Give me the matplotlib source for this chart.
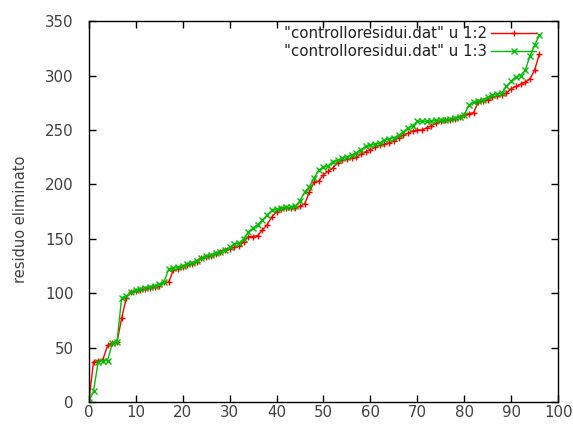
import numpy as np
import matplotlib
matplotlib.use("Agg")
from matplotlib import pyplot as plt

# colonna 1: indice
x = list(range(97))

# colonna 2
col2 = [0, 37, 38, 39, 52, 54, 55, 77, 96, 101,
        102, 103, 104, 105, 106, 107, 110, 110, 121, 122,
        124, 126, 127, 129, 132, 133, 134, 136, 138, 140,
        141, 142, 143, 147, 152, 152, 153, 158, 163, 170,
        175, 177, 178, 178, 178, 180, 182, 193, 202, 203,
        209, 212, 215, 220, 222, 223, 224, 225, 228, 230,
        232, 234, 236, 237, 238, 240, 243, 245, 247, 249,
        250, 250, 252, 254, 256, 258, 259, 259, 260, 262,
        264, 265, 266, 276, 277, 278, 280, 281, 282, 284,
        288, 290, 292, 294, 297, 305, 320]

# colonna 3
col3 = [0, 10, 37, 38, 38, 54, 55, 96, 97, 101,
        103, 104, 105, 106, 107, 108, 110, 122, 123, 124,
        125, 127, 128, 130, 132, 134, 135, 137, 138, 140,
        142, 145, 146, 150, 156, 160, 163, 167, 172, 176,
        177, 178, 179, 179, 180, 185, 193, 198, 206, 213,
        216, 217, 221, 222, 224, 225, 227, 229, 232, 235,
        236, 237, 238, 241, 242, 243, 245, 248, 252, 254,
        258, 258, 258, 258, 259, 259, 259, 260, 261, 262,
        264, 273, 276, 277, 278, 280, 282, 283, 284, 290,
        295, 299, 300, 305, 318, 328, 337]

labels = ['"controlloresidui.dat" u 1:2', '"controlloresidui.dat" u 1:3']
xticks = list(range(0, 101, 10))
yticks = list(range(0, 351, 50))

plt.rcParams['font.family'] = ['DejaVu Sans']
plt.rcParams['font.size'] = 10.8

fig = plt.figure(figsize=(5.73, 4.24), dpi=100)
ax = fig.add_axes([0.155, 0.052, 0.819, 0.898])

ax.plot(x, col2, color='#ff0000', marker='+', markersize=5, linewidth=1, label=labels[0])
ax.plot(x, col3, color='#00c000', marker='x', markersize=4, linewidth=1, label=labels[1])

ax.set_xlim(0, 100)
ax.set_ylim(0, 350)
ax.set_xticks(xticks)
ax.set_yticks(yticks)
ax.tick_params(direction='in', top=True, right=True, length=5, width=1,
               colors='black', labelcolor='#404040')
ax.tick_params(axis='y', pad=11)
ax.tick_params(axis='x', pad=2)
for s in ax.spines.values():
    s.set_linewidth(1)
ax.set_ylabel('residuo eliminato', color='#404040', fontsize=10.5)
ax.yaxis.set_label_coords(-0.13, 0.48)

ax.legend(loc='upper right', bbox_to_anchor=(0.96, 0.995), frameon=False,
          markerfirst=False, handlelength=3, labelspacing=0.22,
          borderaxespad=0, borderpad=0.2, handletextpad=0.3,
          labelcolor='#202020')

plt.savefig('out.png')
